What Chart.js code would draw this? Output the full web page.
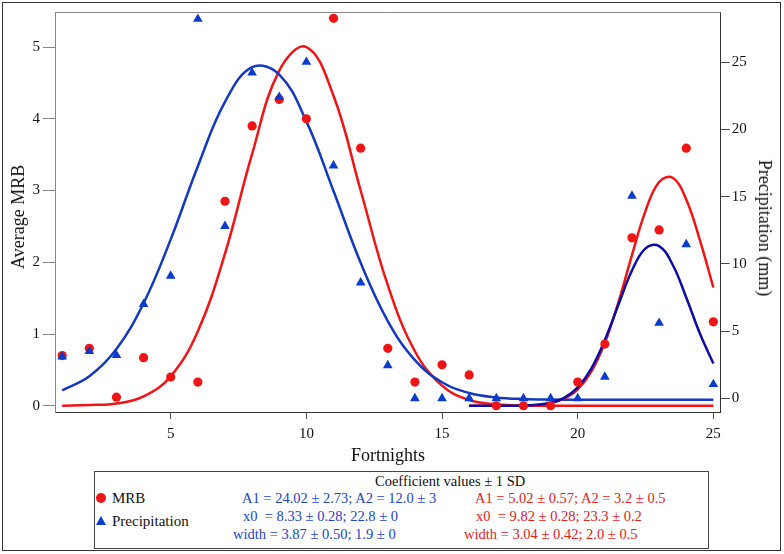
<!DOCTYPE html>
<html>
<head>
<meta charset="utf-8">
<script src="https://cdn.jsdelivr.net/npm/chart.js@4.4.1/dist/chart.umd.min.js"></script>
<style>
  html, body { margin: 0; padding: 0; background: #fff; }
  #wrap { position: relative; width: 784px; height: 554px; font-family: 'Liberation Serif', 'Times New Roman', serif; color: #111; }
  #chart { position: absolute; left: 0; top: 0; }
  #frame { position: absolute; left: 2px; top: 2px; width: 777px; height: 547px; border: 1px solid #333; pointer-events: none; }
  .axisTitle { position: absolute; font-size: 18px; white-space: nowrap; line-height: 20px; }
  #yTitle { left: 18px; top: 217px; transform: translate(-50%, -50%) rotate(-90deg); }
  #y2Title { left: 765px; top: 228px; transform: translate(-50%, -50%) rotate(90deg); }
  #xTitle { left: 388px; top: 455px; transform: translate(-50%, -50%); }
  #fitBox { position: absolute; left: 94px; top: 471px; width: 613px; height: 76px; border: 1px solid #444; background: #fff; }
  #fitBox div { position: absolute; white-space: pre; line-height: 18px; font-size: 14.5px; }
  #fitBox div.key { font-size: 15px; }
  .blue { color: #2244c4; }
  .red { color: #e42020; }
  .mark { position: absolute; }
</style>
</head>
<body>
<div id="wrap">
  <canvas id="chart" width="784" height="554"></canvas>
  <div class="axisTitle" id="yTitle">Average MRB</div>
  <div class="axisTitle" id="y2Title">Precipitation (mm)</div>
  <div class="axisTitle" id="xTitle">Fortnights</div>
  <div id="fitBox"></div>
  <div id="frame"></div>
</div>
<script>
// fortnight index and measured values
const fortnights = [1, 2, 3, 4, 5, 6, 7, 8, 9, 10, 11, 12, 13, 14, 15, 16, 17, 18, 19, 20, 21, 22, 23, 24, 25];
const mrb = [0.70, 0.80, 0.12, 0.67, 0.40, 0.33, 2.85, 3.90, 4.27, 4.00, 5.40, 3.59, 0.80, 0.33, 0.57, 0.43, 0, 0, 0, 0.33, 0.86, 2.34, 2.45, 3.59, 1.17];
const precipitation = [3.1, 3.5, 3.2, 7.0, 9.1, 28.2, 12.8, 24.2, 22.4, 25.0, 17.3, 8.6, 2.45, 0, 0, 0, 0, 0, 0, 0, 1.6, 15.05, 5.6, 11.45, 1.05];

// gaussian fit curves
const fitX1 = fortnights;
const mrbFit1 = [0.00, 0.01, 0.03, 0.13, 0.41, 1.04, 2.12, 3.51, 4.67, 5.00, 4.32, 3.00, 1.68, 0.76, 0.28, 0.08, 0.02, 0, 0, 0, 0, 0, 0, 0, 0];
const precipFit1 = [0.60, 1.64, 3.67, 7.07, 11.82, 17.26, 22.04, 24.62, 24.07, 20.59, 15.41, 10.08, 5.75, 2.84, 1.20, 0.40, 0.07, -0.05, -0.09, -0.1, -0.1, -0.1, -0.1, -0.1, -0.1];
const fitX2 = [16, 17, 18, 18.5, 19, 19.5, 20, 20.5, 21, 21.5, 22, 22.5, 23, 23.5, 24, 24.5, 25];
const mrbFit2 = [0, 0, 0.004, 0.012, 0.037, 0.098, 0.229, 0.476, 0.879, 1.442, 2.100, 2.716, 3.118, 3.178, 2.876, 2.311, 1.648];
const precipFit2 = [-0.55, -0.55, -0.53, -0.48, -0.33, 0.04, 0.82, 2.22, 4.34, 6.96, 9.50, 11.15, 11.32, 9.93, 7.50, 4.84, 2.59];

const xTicks = [5, 10, 15, 20, 25];
const mrbTicks = [0, 1, 2, 3, 4, 5];
const precipTicks = [0, 5, 10, 15, 20, 25];

const fitTitle = 'Coefficient values \u00b1 1 SD';
const precipCoef = ['A1 = 24.02 \u00b1 2.73; A2 = 12.0 \u00b1 3', 'x0  = 8.33 \u00b1 0.28; 22.8 \u00b1 0', 'width = 3.87 \u00b1 0.50; 1.9 \u00b1 0'];
const mrbCoef = ['A1 = 5.02 \u00b1 0.57; A2 = 3.2 \u00b1 0.5', 'x0  = 9.82 \u00b1 0.28; 23.3 \u00b1 0.2', 'width = 3.04 \u00b1 0.42; 2.0 \u00b1 0.5'];

const RED = '#f01414';
const BLUE = '#0a3ccc';
const BLUE_FIT = '#1438c0';
const NAVY = '#0c0ca6';
const FONT = "'Liberation Serif', 'Times New Roman', serif";

function pairs(xs, ys) {
  return xs.map((x, i) => ({ x, y: ys[i] }));
}

function fixedTicks(values) {
  return (scale) => {
    scale.ticks = values.map((v) => ({ value: v }));
  };
}

// fit coefficients box below the plot
const box = document.getElementById('fitBox');
function addText(text, left, top, cls) {
  const d = document.createElement('div');
  d.textContent = text;
  d.style.left = left + 'px';
  d.style.top = top + 'px';
  if (cls) d.className = cls;
  box.appendChild(d);
}
addText(fitTitle, 280, 0);
const rowTops = [17, 35, 53];
const blueLefts = [147, 148, 138];
const redLefts = [380, 381, 369];
precipCoef.forEach((t, i) => addText(t, blueLefts[i], rowTops[i], 'blue'));
mrbCoef.forEach((t, i) => addText(t, redLefts[i], rowTops[i], 'red'));
addText('MRB', 17, 17, 'key');
addText('Precipitation', 17, 40, 'key');
const dot = document.createElement('div');
dot.className = 'mark';
dot.style.cssText = 'left:1px;top:21px;width:10px;height:10px;border-radius:50%;background:' + RED;
box.appendChild(dot);
const tri = document.createElement('div');
tri.className = 'mark';
tri.style.cssText = 'left:1px;top:44px;width:0;height:0;border-left:5px solid transparent;border-right:5px solid transparent;border-bottom:9px solid ' + BLUE;
box.appendChild(tri);

const topBorder = {
  id: 'topBorder',
  afterDraw(chart) {
    const { ctx, chartArea } = chart;
    ctx.save();
    ctx.strokeStyle = '#888';
    ctx.lineWidth = 1;
    ctx.beginPath();
    ctx.moveTo(chartArea.left, chartArea.top + 0.5);
    ctx.lineTo(chartArea.right, chartArea.top + 0.5);
    ctx.stroke();
    ctx.restore();
  }
};

const fitLine = (data, color, axis, order) => ({
  data,
  yAxisID: axis,
  borderColor: color,
  borderWidth: 2.5,
  pointRadius: 0,
  tension: 0.4,
  fill: false,
  order
});

new Chart(document.getElementById('chart'), {
  type: 'line',
  data: {
    datasets: [
      {
        label: 'Precipitation',
        data: pairs(fortnights, precipitation),
        yAxisID: 'y2',
        showLine: false,
        pointStyle: 'triangle',
        pointRadius: 5.6,
        backgroundColor: BLUE,
        borderColor: BLUE,
        borderWidth: 0,
        order: 0
      },
      {
        label: 'MRB',
        data: pairs(fortnights, mrb),
        yAxisID: 'y',
        showLine: false,
        pointStyle: 'circle',
        pointRadius: 4.6,
        backgroundColor: RED,
        borderColor: RED,
        borderWidth: 0,
        order: 1
      },
      fitLine(pairs(fitX2, precipFit2), NAVY, 'y2', 2),
      fitLine(pairs(fitX2, mrbFit2), RED, 'y', 3),
      fitLine(pairs(fitX1, precipFit1), BLUE_FIT, 'y2', 4),
      fitLine(pairs(fitX1, mrbFit1), RED, 'y', 5)
    ]
  },
  options: {
    responsive: false,
    animation: false,
    events: [],
    layout: { padding: { top: 10, left: 0, right: 0, bottom: 0 } },
    plugins: {
      legend: { display: false },
      tooltip: { enabled: false }
    },
    scales: {
      x: {
        type: 'linear',
        min: 0.735,
        max: 25.27,
        afterBuildTicks: fixedTicks(xTicks),
        afterFit: (s) => { s.height = 142; },
        ticks: { font: { size: 15, family: FONT }, color: '#111', padding: 6, maxRotation: 0, autoSkip: false },
        grid: { drawOnChartArea: false, drawTicks: true, tickLength: 7, color: '#555' },
        border: { display: true, color: '#333' }
      },
      y: {
        position: 'left',
        min: -0.087,
        max: 5.488,
        afterBuildTicks: fixedTicks(mrbTicks),
        afterFit: (s) => { s.width = 55; },
        ticks: { font: { size: 15, family: FONT }, color: '#111', padding: 3, autoSkip: false },
        grid: { drawOnChartArea: false, drawTicks: true, tickLength: 12, color: '#888' },
        border: { display: true, color: '#888' }
      },
      y2: {
        position: 'right',
        min: -1.013,
        max: 28.72,
        afterBuildTicks: fixedTicks(precipTicks),
        afterFit: (s) => { s.width = 63.3; },
        ticks: { font: { size: 15, family: FONT }, color: '#111', padding: 2, autoSkip: false },
        grid: { drawOnChartArea: false, drawTicks: true, tickLength: 9, color: '#444' },
        border: { display: true, color: '#333' }
      }
    }
  },
  plugins: [topBorder]
});
</script>
</body>
</html>
